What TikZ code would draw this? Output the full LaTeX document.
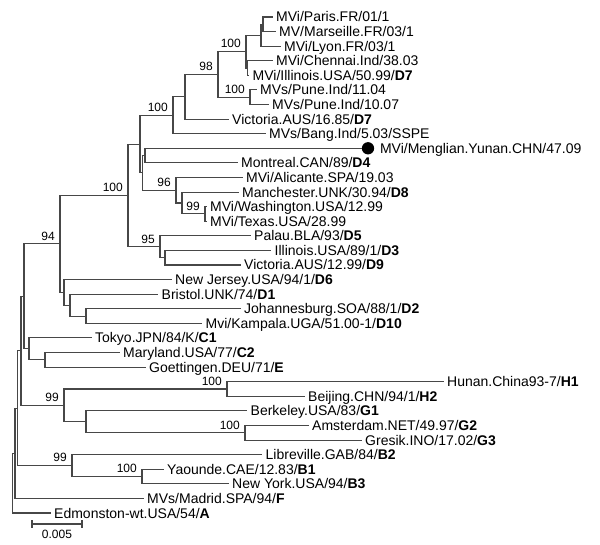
\documentclass[tikz,border=0pt]{standalone}
\usepackage{fontspec}
\setmainfont{Liberation Sans}
\begin{document}
\begin{tikzpicture}[x=1pt,y=-1pt,
  br/.style={draw=black!72, line width=1.1pt},
  leaf/.style={anchor=west, inner xsep=3.5pt, inner ysep=0pt, text height=10pt, text depth=0pt, font=\fontsize{14}{14}\selectfont},
  boot/.style={anchor=south east, inner sep=0pt, text depth=0pt, font=\fontsize{12}{12}\selectfont},
  dotnode/.style={circle, fill=black, inner sep=0pt, minimum size=12.3pt}]
\useasboundingbox[fill=white] (0,0) rectangle (600,545);
% internal nodes
\coordinate (root) at (12.7,483.2);
\coordinate (n15) at (15,453.35);
\coordinate (n18) at (17.5,408.3);
\coordinate (n22) at (21,350.9);
\coordinate (n24) at (24,296.4);
\coordinate (n94) at (60,243.9);
\coordinate (nDmain) at (128,195.4);
\coordinate (nDm) at (140,144.1);
\coordinate (nA) at (173,115.25);
\coordinate (nB) at (185,96.8);
\coordinate (nC) at (218,74.45);
\coordinate (nD) at (246,51.7);
\coordinate (nP) at (261,35.25);
\coordinate (nPM) at (263,24.3);
\coordinate (nCI) at (247.5,68.1);
\coordinate (nPune) at (250,97.2);
\coordinate (nDsub) at (142.5,172.9);
\coordinate (nMM) at (145,155.6);
\coordinate (n96) at (176,190.25);
\coordinate (n182) at (182,203.0);
\coordinate (nW) at (205,213.9);
\coordinate (n95) at (160,246.75);
\coordinate (n165) at (165,257.7);
\coordinate (n64) at (64,292.4);
\coordinate (n70) at (70,305.15);
\coordinate (n86) at (86,316.1);
\coordinate (nCa) at (29,348.85);
\coordinate (nCb) at (45,359.8);
\coordinate (nHG) at (64,405.4);
\coordinate (nH) at (227,389.0);
\coordinate (nG) at (86,421.85);
\coordinate (nGb) at (245,432.8);
\coordinate (nBc) at (72,465.65);
\coordinate (nBb) at (142,476.6);
% leaves
\node[leaf] (la) at (272.5,17.0) {MVi/Paris.FR/01/1};
\node[leaf] (lb) at (275.5,31.6) {MV/Marseille.FR/03/1};
\node[leaf] (lc) at (280.5,46.2) {MVi/Lyon.FR/03/1};
\node[leaf] (ld) at (272.5,60.8) {MVi/Chennai.Ind/38.03};
\node[leaf] (le) at (249,75.4) {MVi/Illinois.USA/50.99/\textbf{D7}};
\node[leaf] (lf) at (256.5,89.9) {MVs/Pune.Ind/11.04};
\node[leaf] (lg) at (268.5,104.5) {MVs/Pune.Ind/10.07};
\node[leaf] (lh) at (228.5,119.1) {Victoria.AUS/16.85/\textbf{D7}};
\node[leaf] (li) at (265.5,133.7) {MVs/Bang.Ind/5.03/SSPE};
\node[dotnode] (dot) at (368,148.3) {};
\node[leaf, xshift=2pt] (lj) at (dot.east) {MVi/Menglian.Yunan.CHN/47.09};
\node[leaf] (lk) at (237.5,162.9) {Montreal.CAN/89/\textbf{D4}};
\node[leaf] (ll) at (242.5,177.5) {MVi/Alicante.SPA/19.03};
\node[leaf] (lm) at (238.5,192.1) {Manchester.UNK/30.94/\textbf{D8}};
\node[leaf] (ln) at (206.5,206.6) {MVi/Washington.USA/12.99};
\node[leaf] (lo) at (206.5,221.2) {MVi/Texas.USA/28.99};
\node[leaf] (lp) at (250.5,235.8) {Palau.BLA/93/\textbf{D5}};
\node[leaf] (lq) at (271,250.4) {Illinois.USA/89/1/\textbf{D3}};
\node[leaf] (lr) at (240.5,265.0) {Victoria.AUS/12.99/\textbf{D9}};
\node[leaf] (ls) at (171.5,279.6) {New Jersey.USA/94/1/\textbf{D6}};
\node[leaf] (lt) at (158,294.2) {Bristol.UNK/74/\textbf{D1}};
\node[leaf] (lu) at (240.5,308.8) {Johannesburg.SOA/88/1/\textbf{D2}};
\node[leaf] (lv) at (202,323.4) {Mvi/Kampala.UGA/51.00-1/\textbf{D10}};
\node[leaf] (lw) at (91.5,337.9) {Tokyo.JPN/84/K/\textbf{C1}};
\node[leaf] (lx) at (119.5,352.5) {Maryland.USA/77/\textbf{C2}};
\node[leaf] (ly) at (145.5,367.1) {Goettingen.DEU/71/\textbf{E}};
\node[leaf] (lz) at (443.5,381.7) {Hunan.China93-7/\textbf{H1}};
\node[leaf] (lA) at (304.5,396.3) {Beijing.CHN/94/1/\textbf{H2}};
\node[leaf] (lB) at (247,410.9) {Berkeley.USA/83/\textbf{G1}};
\node[leaf] (lC) at (308.5,425.5) {Amsterdam.NET/49.97/\textbf{G2}};
\node[leaf] (lD) at (361.5,440.1) {Gresik.INO/17.02/\textbf{G3}};
\node[leaf] (lE) at (262,454.7) {Libreville.GAB/84/\textbf{B2}};
\node[leaf] (lF) at (163.5,469.3) {Yaounde.CAE/12.83/\textbf{B1}};
\node[leaf] (lG) at (228.5,483.9) {New York.USA/94/\textbf{B3}};
\node[leaf] (lH) at (143.5,498.4) {MVs/Madrid.SPA/94/\textbf{F}};
\node[leaf] (lI) at (50.5,513.0) {Edmonston-wt.USA/54/\textbf{A}};
% internal connectors
\foreach \p/\c in {root/n15, n15/n18, n18/n22, n18/nBc, n22/n24, n22/nHG, n24/n94, n24/nCa,
  n94/nDmain, n94/n64, nDmain/nDm, nDmain/n95, nDm/nA, nDm/nDsub, nA/nB, nB/nC,
  nC/nD, nC/nPune, nD/nP, nD/nCI, nP/nPM, nDsub/nMM, nDsub/n96, n96/n182, n182/nW,
  n95/n165, n64/n70, n70/n86, nCa/nCb, nHG/nH, nHG/nG, nG/nGb, nBc/nBb}
  \draw[br] (\p) |- (\c);
% leaf connectors
\foreach \p/\c in {root/lI, n15/lH, nPM/la, nPM/lb, nP/lc, nCI/ld, nCI/le, nPune/lf, nPune/lg,
  nB/lh, nA/li, nMM/dot, nMM/lk, n96/ll, n182/lm, nW/ln, nW/lo, n95/lp, n165/lq, n165/lr,
  n64/ls, n70/lt, n86/lu, n86/lv, nCa/lw, nCb/lx, nCb/ly, nH/lz, nH/lA, nG/lB, nGb/lC, nGb/lD,
  nBc/lE, nBb/lF, nBb/lG}
  \draw[br] (\p) |- (\c.west);
% bootstrap values
\foreach \n/\v in {nD/100, nC/98, nPune/100, nA/100, nDmain/100, n96/96, nW/99, n95/95,
  n94/94, nH/100, nHG/99, nGb/100, nBc/99, nBb/100}
  \path (\n) ++(-5,-3.5) node[boot] {\v};
% scale bar
\coordinate (sba) at (32,524);
\coordinate (sbb) at (82,524);
\draw[br] (sba) -- (sbb);
\draw[br] (sba) ++(0,-4) -- ++(0,8);
\draw[br] (sbb) ++(0,-4) -- ++(0,8);
\node[font=\fontsize{12}{12}\selectfont, anchor=north, inner sep=0pt] (sbl) at (57,530) {0.005};
\end{tikzpicture}
\end{document}
